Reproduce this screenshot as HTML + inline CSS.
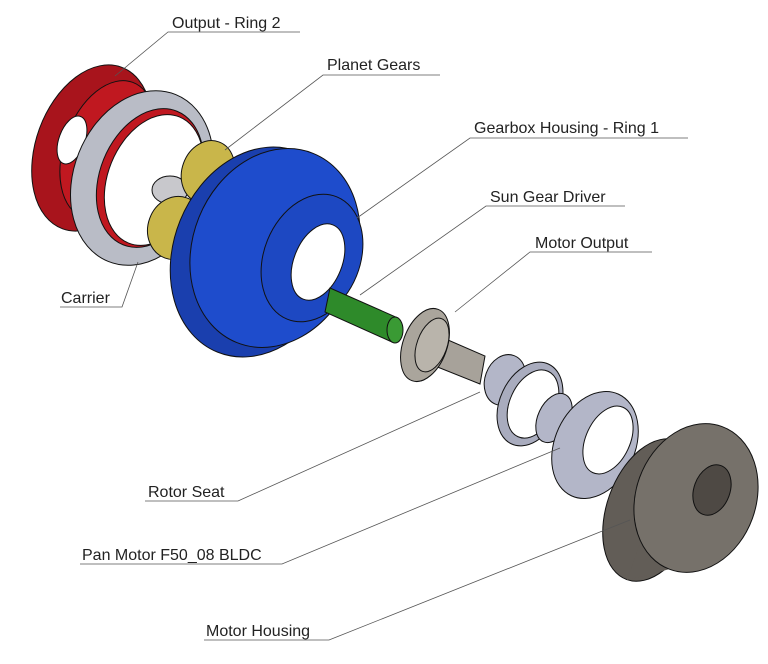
<!DOCTYPE html>
<html><head><meta charset="utf-8"><style>
html,body{margin:0;padding:0;background:#fff;}
svg{display:block;}
text{font-family:"Liberation Sans",sans-serif;font-size:16px;fill:#222;}
</style></head><body>
<svg width="768" height="664" viewBox="0 0 768 664" xmlns="http://www.w3.org/2000/svg">
<g stroke="#111" stroke-width="1">
<!-- red ring -->
<ellipse cx="92" cy="148" rx="56" ry="86" transform="rotate(20 92 148)" fill="#a8141c"/>
<ellipse cx="108" cy="150" rx="44" ry="72" transform="rotate(20 108 150)" fill="#c01820"/>
<ellipse cx="72" cy="140" rx="13" ry="25" transform="rotate(20 72 140)" fill="#fff"/>
<!-- silver ring -->
<ellipse cx="142" cy="178" rx="68" ry="90" transform="rotate(22 142 178)" fill="#b9bcc6"/>
<ellipse cx="150" cy="178" rx="50" ry="72" transform="rotate(22 150 178)" fill="#c01820"/>
<ellipse cx="154" cy="180" rx="46" ry="68" transform="rotate(22 154 180)" fill="#fff"/>
<ellipse cx="170" cy="190" rx="18" ry="14" fill="#c8c8cc"/>
<!-- planet gears -->
<ellipse cx="208" cy="172" rx="26" ry="32" transform="rotate(20 208 172)" fill="#c9b64a"/>
<ellipse cx="176" cy="228" rx="28" ry="32" transform="rotate(20 176 228)" fill="#c9b64a"/>
<!-- blue housing -->
<ellipse cx="258" cy="252" rx="84" ry="108" transform="rotate(22 258 252)" fill="#1a3fae"/>
<ellipse cx="275" cy="248" rx="82" ry="102" transform="rotate(22 275 248)" fill="#1e4ccc"/>
<ellipse cx="312" cy="258" rx="48" ry="66" transform="rotate(22 312 258)" fill="#1d48c2"/>
<ellipse cx="318" cy="262" rx="24" ry="40" transform="rotate(22 318 262)" fill="#fff"/>
<!-- green shaft -->
<path d="M330 288 L398 318 L392 342 L325 312 Z" fill="#2e8a2a"/>
<ellipse cx="395" cy="330" rx="8" ry="13" fill="#3a9a34"/>
<!-- motor output -->
<path d="M425 330 L485 356 L480 384 L420 360 Z" fill="#a7a29a"/>
<ellipse cx="425" cy="345" rx="22" ry="38" transform="rotate(20 425 345)" fill="#aaa59c"/>
<ellipse cx="432" cy="345" rx="15" ry="28" transform="rotate(20 432 345)" fill="#b9b4ab"/>
<!-- rotor seat / rings -->
<ellipse cx="505" cy="380" rx="20" ry="26" transform="rotate(20 505 380)" fill="#b3b6c8"/>
<ellipse cx="530" cy="404" rx="30" ry="44" transform="rotate(25 530 404)" fill="#a9acbe"/>
<ellipse cx="533" cy="404" rx="23" ry="36" transform="rotate(25 533 404)" fill="#fff"/>
<ellipse cx="554" cy="418" rx="16" ry="26" transform="rotate(25 554 418)" fill="#b3b6c8"/>
<ellipse cx="595" cy="445" rx="40" ry="56" transform="rotate(25 595 445)" fill="#b3b6c8"/>
<ellipse cx="608" cy="440" rx="22" ry="36" transform="rotate(25 608 440)" fill="#fff"/>
<!-- motor housing -->
<ellipse cx="652" cy="510" rx="45" ry="74" transform="rotate(20 652 510)" fill="#625d57"/>
<path d="M677 440 L722 427 L670 569 L627 580 Z" fill="#625d57" stroke="none"/>
<ellipse cx="696" cy="498" rx="60" ry="76" transform="rotate(20 696 498)" fill="#76716a"/>
<ellipse cx="712" cy="490" rx="18" ry="26" transform="rotate(20 712 490)" fill="#4e4944"/>
</g>
<!-- leaders -->
<g stroke="#555" stroke-width="0.8" fill="none">
<path d="M115 76 L168 32 L300 32"/>
<path d="M225 150 L323 75 L440 75"/>
<path d="M357 218 L470 138 L688 138"/>
<path d="M360 295 L486 206 L625 206"/>
<path d="M455 312 L530 252 L652 252"/>
<path d="M138 262 L122 307 L60 307"/>
<path d="M480 392 L238 501 L145 501"/>
<path d="M560 448 L282 564 L80 564"/>
<path d="M630 520 L329 640 L204 640"/>
</g>
<text x="172" y="28">Output - Ring 2</text>
<text x="327" y="70">Planet Gears</text>
<text x="474" y="133">Gearbox Housing - Ring 1</text>
<text x="490" y="202">Sun Gear Driver</text>
<text x="535" y="248">Motor Output</text>
<text x="61" y="303">Carrier</text>
<text x="148" y="497">Rotor Seat</text>
<text x="82" y="560">Pan Motor F50_08 BLDC</text>
<text x="206" y="636">Motor Housing</text>
</svg>
</body></html>
